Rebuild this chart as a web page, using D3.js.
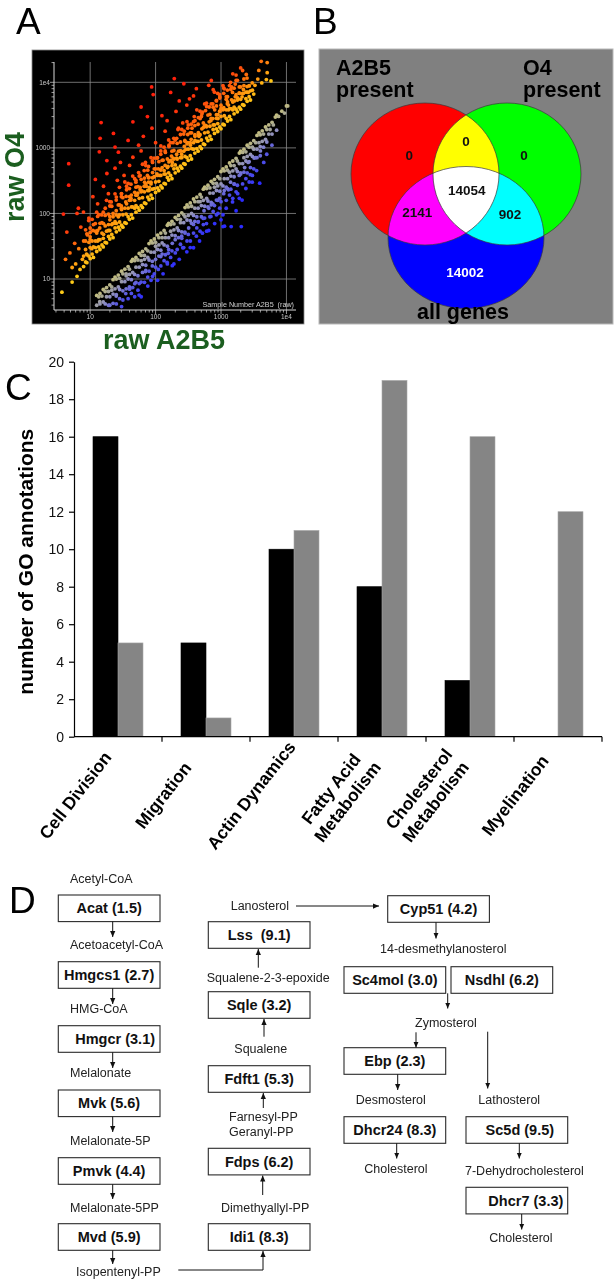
<!DOCTYPE html>
<html>
<head>
<meta charset="utf-8">
<script src="https://cdn.jsdelivr.net/npm/d3@7"></script>
<style>
  body { margin: 0; background: #fff; }
  svg { display: block; font-family: 'Liberation Sans', Arial, Helvetica, sans-serif; }
</style>
</head>
<body>
<svg id="fig" width="614" height="1280"></svg>
<script>
// ===================== DATA =====================
const panelLetters = ["A", "B", "C", "D"];

// ---- Panel A: raw A2B5 (x) vs raw O4 (y) ----
const axisGridValuesA = [10, 100, 1000, 10000];
const axisGridLabelsA = ["10", "100", "1000", "1e4"];
// Upper (O4-enriched) band, read in log10 units: [log10 A2B5, log10 O4 values...]
const upperBandLog10 = [
  [0.90,1.19,1.35,1.58],[0.93,1.26,1.45,1.75],[0.95,1.25,1.37,1.69],[0.98,1.35,1.56,1.93],[1.00,1.31,1.48,1.71],
  [1.03,1.38,1.58,1.91],[1.05,1.33,1.49,1.83],[1.08,1.48,1.58,1.73],[1.10,1.42,1.70,2.02],[1.13,1.49,1.60,1.98],
  [1.15,1.45,1.60,1.85],[1.18,1.52,1.70,1.86],[1.20,1.49,1.62,2.02],[1.23,1.56,1.81,1.97],[1.25,1.55,1.73,2.20],
  [1.28,1.65,1.83,1.99],[1.30,1.61,1.74,2.18],[1.33,1.68,1.83,2.11],[1.35,1.63,1.95,2.00],[1.38,1.78,1.85,2.30],
  [1.40,1.72,1.85,2.25],[1.43,1.79,1.95,2.13],[1.45,1.75,1.87,2.13],[1.48,1.82,2.06,2.30],[1.50,1.79,1.98,2.24],
  [1.53,1.86,2.08,2.48],[1.55,1.85,1.99,2.26],[1.58,1.95,2.08,2.46],[1.60,1.91,2.20,2.38],[1.63,1.98,2.10,2.28],
  [1.65,1.93,2.10,2.57],[1.68,2.08,2.20,2.53],[1.70,2.02,2.12,2.40],[1.73,2.09,2.31,2.41],[1.75,2.05,2.23,2.57],
  [1.78,2.12,2.33,2.52],[1.80,2.09,2.24,2.75],[1.83,2.16,2.33,2.54],[1.85,2.15,2.45,2.73],[1.88,2.25,2.35,2.66],
  [1.90,2.21,2.35,2.55],[1.93,2.28,2.45,2.85],[1.95,2.23,2.37,2.80],[1.98,2.38,2.56,2.68],[2.00,2.32,2.48,2.68],
  [2.03,2.39,2.58,2.85],[2.05,2.35,2.49,2.79],[2.08,2.42,2.58,3.03],[2.10,2.39,2.70,2.81],[2.13,2.46,2.60,3.01],
  [2.15,2.45,2.60,2.93],[2.18,2.55,2.70,2.83],[2.20,2.51,2.62,3.12],[2.23,2.58,2.81,3.08],[2.25,2.53,2.73,2.95],
  [2.28,2.68,2.83,2.96],[2.30,2.62,2.74,3.12],[2.33,2.69,2.83,3.07],[2.35,2.65,2.95,3.30],[2.38,2.72,2.85,3.09],
  [2.40,2.69,2.85,3.28],[2.43,2.76,2.95,3.21],[2.45,2.75,2.87,3.10],[2.48,2.85,3.06,3.40],[2.50,2.81,2.98,3.35],
  [2.53,2.88,3.08,3.23],[2.55,2.83,2.99,3.23],[2.58,2.98,3.08,3.40],[2.60,2.92,3.20,3.34],[2.63,2.99,3.10,3.58],
  [2.65,2.95,3.10,3.36],[2.68,3.02,3.20,3.56],[2.70,2.99,3.12,3.48],[2.73,3.06,3.31,3.38],[2.75,3.05,3.23,3.67],
  [2.78,3.15,3.33,3.63],[2.80,3.11,3.24,3.50],[2.83,3.18,3.33,3.51],[2.85,3.13,3.45,3.67],[2.88,3.28,3.35,3.62],
  [2.90,3.22,3.35,3.85],[2.93,3.29,3.45,3.64],[2.95,3.25,3.37,3.83],[2.98,3.32,3.56,3.76],[3.00,3.29,3.48,3.65],
  [3.03,3.36,3.58,3.95],[3.05,3.35,3.49,3.90],[3.08,3.45,3.58,3.78],[3.10,3.41,3.70,3.78],[3.13,3.48,3.60,3.95],
  [3.15,3.43,3.60,3.89],[3.18,3.58,3.70,4.13],[3.20,3.52,3.62,3.91],[3.23,3.59,3.81,4.11],[3.25,3.55,3.73,4.03],
  [3.28,3.62,3.83,3.93],[3.30,3.59,3.74,4.22],[3.33,3.66,3.83,4.18],[3.35,3.65,3.95,4.05],[3.38,3.75,3.85],
  [3.40,3.71,3.85],[3.43,3.78,3.95],[3.45,3.73,3.87],[3.48,3.88],[3.50,3.82]
];
// Extra O4-enriched points (raw): [A2B5, [O4 values...]]
const upperMid = [
  [10,[40,60]],[13,[55,90]],[16,[70]],[20,[80,130]],[25,[95,160]],[30,[120,200]],[36,[140,230]],[42,[170,280]],
  [50,[190,320]],[58,[230,380]],[67,[260,450]],[78,[300,520]],[90,[350,600]],[105,[400,700]],[120,[460,800]],
  [140,[540,900]],[160,[610,1050]],[185,[700,1200]],[210,[800,1400]],[240,[900,1600]],[275,[1050,1800]],
  [310,[1200,2000]],[350,[1350,2300]],[400,[1500,2600]],[450,[1700,2900]],[510,[1950,3300]],[580,[2200,3700]],
  [660,[2500,4200]],[750,[2800,4700]],[850,[3200,5300]],[960,[3600,6000]],[1100,[4100,6800]],[1250,[4700,7600]],
  [1450,[5400,8500]],[1650,[6000,9400]],[1900,[6900]],[2200,[7800]],[2500,[8600]]
];
// Sparse points far above the diagonal (raw): [A2B5, O4]
const upperSparse = [
  [3.7,6.3],[4.2,20],[5.3,9],[5.3,15],[6.3,11],[4.4,52],[3.9,98],[6.6,120],[7.9,105],[6.3,100],[4.7,270],[4.7,575],
  [6.7,29],[7.6,20],[9.1,47],[10,44],[10.6,29],[8.5,38],[5.8,35],[7.2,62],[9.5,78],[4.9,25],[6,17],[8.8,24],[7,14],
  [14.7,2430],[14.2,1400],[13.8,870],[22.7,1660],[24,1030],[18,407],[24,490],[12,330],[16,260],[11,180],[13,140],
  [15,95],[19,200],[21,150],[26,320],[28,250],[17,120],[12,70],[14,60],[20,90],[25,110],[30,180],[29,600],[18,640],
  [27,860],[11,55],[16,48],[22,70],[13,38],[19,55],[24,75],[28,95],[30,130],
  [33,380],[36,260],[40,540],[45,720],[50,300],[55,420],[60,900],[65,1500],[70,600],[75,380],[80,250],[87,8500],
  [92,6500],[40,180],[48,210],[58,250],[68,300],[78,350],[90,420],[35,150],[42,160],[52,190],[62,220],[72,260],
  [85,300],[95,700],[100,1200],[88,2000],[55,1100],[45,2500],[75,3000],[60,4200],[38,1300],
  [110,480],[120,900],[130,650],[140,1800],[150,2600],[160,1100],[175,750],[190,1400],[193,11400],[205,3600],
  [220,1900],[240,900],[260,2400],[280,1300],[300,4500],[330,5600],[360,2000],[390,3000],[420,8000],[450,1600],
  [480,2800],[115,380],[135,450],[155,520],[180,600],[210,700],[250,800],[290,950],[340,1100],[400,1300],[460,1500],
  [125,3100],[230,5200],[170,7000],[270,9500],[310,1600],[380,6200],
  [520,3500],[560,2200],[600,4800],[650,9000],[710,10700],[760,7700],[800,3800],[850,5200],[900,2800],[950,6500],
  [1000,4000],[1100,8200],[1200,5500],[1300,3800],[1400,10000],[1500,7000],[1700,10700],[1800,5800],[2000,8500],
  [2200,6800],[2430,13200],[2500,11600],[2700,8800],[3000,9800],[3650,11200],[3780,15200],[4110,20900],[4930,11000],
  [5080,20000],[5080,14000],[5800,10500],[3300,9000],[4200,9800],[600,2100],[700,2600],[900,3200],[1100,3900],
  [1300,4500],[1600,5200],[2100,6000],[2600,7000]
];
// Lower (A2B5-enriched) band, log10 units: [log10 A2B5, log10 O4 values...]
const lowerBandLog10 = [
  [1.10,0.75,0.60],[1.13,0.73],[1.15,0.78,0.62],[1.18,0.74],[1.20,0.84,0.65],[1.23,0.81,0.62],[1.25,0.87,0.73],
  [1.28,0.81,0.60],[1.30,0.91,0.73,0.60],[1.33,0.88,0.83],[1.35,0.99,0.77,0.63],[1.38,1.03,0.85],[1.40,1.00,0.76,0.62],
  [1.43,1.06,0.88],[1.45,1.01,0.84,0.70],[1.48,1.12,0.96,0.58],[1.50,1.08,0.82,0.68],[1.53,1.15,0.96],
  [1.55,1.08,1.05,0.85],[1.58,1.19,1.00,0.70],[1.60,1.15,1.07,0.88],[1.63,1.27,0.99,0.78],[1.65,1.30,1.10,0.87],
  [1.68,1.28,1.07,0.73],[1.70,1.33,1.18,0.95],[1.73,1.29,1.05,0.83],[1.75,1.39,1.18,0.93],[1.78,1.36,1.28,0.73],
  [1.80,1.42,1.22,1.10],[1.83,1.36,1.30,0.95],[1.85,1.46,1.21,1.13],[1.88,1.43,1.33,1.03],[1.90,1.54,1.29,1.12],
  [1.93,1.58,1.41,0.98],[1.95,1.55,1.27,1.20],[1.98,1.61,1.41,1.08],[2.00,1.56,1.50,1.18],[2.03,1.67,1.45,0.98],
  [2.05,1.63,1.52,1.35],[2.08,1.70,1.44,1.20],[2.10,1.63,1.55,1.38],[2.13,1.74,1.52,1.28],[2.15,1.70,1.63,1.37],
  [2.18,1.82,1.50,1.23],[2.20,1.85,1.63,1.45],[2.23,1.83,1.73,1.33],[2.25,1.88,1.67,1.43],[2.28,1.84,1.75,1.23],
  [2.30,1.94,1.66,1.60],[2.33,1.91,1.78,1.45],[2.35,1.97,1.74,1.63],[2.38,1.91,1.86,1.53],[2.40,2.01,1.72,1.62],
  [2.43,1.98,1.86,1.48],[2.45,2.09,1.95,1.70],[2.48,2.13,1.90,1.58],[2.50,2.10,1.97,1.68],[2.53,2.16,1.89,1.48],
  [2.55,2.11,2.00,1.85],[2.58,2.22,1.97,1.70],[2.60,2.18,2.08,1.88],[2.63,2.25,1.95,1.78],[2.65,2.18,2.08,1.87],
  [2.68,2.29,2.18,1.73],[2.70,2.25,2.12,1.95],[2.73,2.37,2.20,1.83],[2.75,2.40,2.11,1.93],[2.78,2.38,2.23,1.73],
  [2.80,2.43,2.19,2.10],[2.83,2.39,2.31,1.95],[2.85,2.49,2.17,2.13],[2.88,2.46,2.31,2.03],[2.90,2.52,2.40,2.12],
  [2.93,2.46,2.35,1.98],[2.95,2.56,2.42,2.20],[2.98,2.53,2.34,2.08],[3.00,2.64,2.45,2.18],[3.03,2.68,2.42,1.98],
  [3.05,2.65,2.53,2.35],[3.08,2.71,2.40,2.20],[3.10,2.66,2.53,2.38],[3.13,2.77,2.63,2.28],[3.15,2.73,2.57,2.37],
  [3.18,2.80,2.65,2.23],[3.20,2.73,2.56,2.45],[3.23,2.84,2.68,2.33],[3.25,2.80,2.64,2.43],[3.28,2.92,2.76,2.23],
  [3.30,2.95,2.62,2.60],[3.33,2.93,2.76,2.45],[3.35,2.98,2.85,2.63],[3.38,2.94,2.80,2.53],[3.40,3.04,2.87,2.62],
  [3.43,3.01,2.79,2.48],[3.45,3.07,2.90,2.70],[3.48,3.01,2.87,2.58],[3.50,3.11,2.98,2.68],[3.53,3.08,2.85],
  [3.55,3.19,2.98,2.85],[3.58,3.23,3.08],[3.60,3.20,3.02,2.88],[3.63,3.26,3.10],[3.65,3.21,3.01],[3.68,3.32,3.13],
  [3.70,3.28,3.09],[3.73,3.35,3.21],[3.75,3.28],[3.78,3.39,3.21],[3.80,3.35],[3.83,3.47],[3.85,3.50,3.27],
  [3.88,3.48],[3.93,3.56],[3.97,3.53],[4.00,3.64],[4.02,3.64]
];
// Sparse points far below the diagonal (raw): [A2B5, O4]
const lowerSparse = [
  [14,4.5],[56,5.7],[76,7.8],[40,7],[90,11],[110,14],[130,12],[150,18],[156,24.7],[180,16],[200,25],[230,20],
  [260,30],[300,26],[340,38],[380,30],[420,45],[470,38],[535,84],[520,50],[600,70],[650,55],[700,90],[800,70],
  [900,100],[1000,80],[1070,63],[1130,64],[1200,120],[1430,63],[1500,150],[1700,110],[1800,200],[2040,63],
  [2100,160],[2400,240],[2800,390],[3000,300],[3900,290],[3500,450],[4500,600],[5000,800],[6000,1100],[250,45],
  [320,60],[450,75],[550,110],[750,140],[950,170],[1300,230],[1600,280],[2600,600],[3200,700],[4000,900],
  [180,35],[120,22],[70,13],[100,20],[280,52],[380,68],[650,120],[850,160],[1100,200],[1400,300],[1900,380],
  [2300,500],[60,9],[35,6],[25,5.5],[48,8.5]
];

// ---- Panel B: Venn diagram ----
const vennSetNames = ["A2B5|present", "O4|present", "all genes"];
const vennSetColors = ["#ff0000", "#00ff00", "#0000ff"];
const vennRegionNames = ["A2B5 only", "A2B5 & O4", "O4 only", "A2B5 & all", "all three", "O4 & all", "all only"];
const vennRegionCounts = [0, 0, 0, 2141, 14054, 902, 14002];

// ---- Panel C: GO annotation bars ----
const goCategories = ["Cell Division", "Migration", "Actin Dynamics", "Fatty Acid\nMetabolism", "Cholesterol\nMetabolism", "Myelination"];
const goSeriesBlack = [16, 5, 10, 8, 3, 0];
const goSeriesGrey = [5, 1, 11, 19, 16, 12];
const goTicks = [0, 2, 4, 6, 8, 10, 12, 14, 16, 18, 20];

// ---- Panel D: cholesterol biosynthesis pathway ----
const enzymes = ["Acat","Hmgcs1","Hmgcr","Mvk","Pmvk","Mvd","Idi1","Fdps","Fdft1","Sqle","Lss","Cyp51","Sc4mol","Nsdhl","Ebp","Dhcr24","Sc5d","Dhcr7"];
const enzymeFold = [1.5, 2.7, 3.1, 5.6, 4.4, 5.9, 8.3, 6.2, 5.3, 3.2, 9.1, 4.2, 3.0, 6.2, 2.3, 8.3, 9.5, 3.3];
const metabolites = ["Acetyl-CoA","Acetoacetyl-CoA","HMG-CoA","Melalonate","Melalonate-5P","Melalonate-5PP","Isopentenyl-PP",
  "Dimethyallyl-PP","Farnesyl-PP","Geranyl-PP","Squalene","Squalene-2-3-epoxide","Lanosterol","14-desmethylanosterol",
  "Zymosterol","Desmosterol","Lathosterol","Cholesterol","7-Dehydrocholesterol","Cholesterol"];

// ===================== DRAWING =====================
const svg = d3.select("#fig");
const letterLayout = [[16, 34], [313, 34], [5, 400], [9, 913]];
svg.selectAll("text.panel").data(panelLetters).join("text")
  .attr("class", "panel")
  .attr("x", (d, i) => letterLayout[i][0]).attr("y", (d, i) => letterLayout[i][1])
  .attr("font-size", 37).attr("fill", "#000").text(d => d);

// ---------- Panel A ----------
const gA = svg.append("g");
gA.append("rect").attr("x", 32).attr("y", 50).attr("width", 272).attr("height", 274)
  .attr("fill", "#000").attr("stroke", "#888").attr("stroke-width", 0.8);
const xA = d3.scaleLog().domain([2.8, 14000]).range([54, 296]);
const yA = d3.scaleLog().domain([3.37, 20400]).range([310, 62]);

gA.selectAll("line.vg").data(axisGridValuesA).join("line").attr("class", "vg")
  .attr("x1", d => xA(d)).attr("x2", d => xA(d))
  .attr("y1", yA.range()[0]).attr("y2", yA.range()[1])
  .attr("stroke", "#8c8c8c").attr("stroke-width", 0.8);
gA.selectAll("line.hg").data(axisGridValuesA).join("line").attr("class", "hg")
  .attr("y1", d => yA(d)).attr("y2", d => yA(d))
  .attr("x1", xA.range()[0]).attr("x2", xA.range()[1])
  .attr("stroke", "#8c8c8c").attr("stroke-width", 0.8);
gA.append("line").attr("x1", xA.range()[0]).attr("x2", xA.range()[1])
  .attr("y1", yA.range()[0]).attr("y2", yA.range()[0]).attr("stroke", "#d8d8d8").attr("stroke-width", 1);
gA.append("line").attr("x1", xA.range()[0]).attr("x2", xA.range()[0])
  .attr("y1", yA.range()[0]).attr("y2", yA.range()[1]).attr("stroke", "#d8d8d8").attr("stroke-width", 1);
gA.selectAll("line.xt").data(xA.ticks()).join("line").attr("class", "xt")
  .attr("x1", d => xA(d)).attr("x2", d => xA(d))
  .attr("y1", yA.range()[0]).attr("y2", d => yA.range()[0] + (axisGridValuesA.includes(d) ? 4 : 2.5))
  .attr("stroke", "#d8d8d8").attr("stroke-width", 0.7);
gA.selectAll("line.yt").data(yA.ticks()).join("line").attr("class", "yt")
  .attr("y1", d => yA(d)).attr("y2", d => yA(d))
  .attr("x1", xA.range()[0]).attr("x2", d => xA.range()[0] - (axisGridValuesA.includes(d) ? 4 : 2.5))
  .attr("stroke", "#d8d8d8").attr("stroke-width", 0.7);
gA.selectAll("text.xl").data(axisGridValuesA).join("text").attr("class", "xl")
  .attr("x", d => xA(d)).attr("y", yA.range()[0] + 9).attr("text-anchor", "middle")
  .attr("font-size", 6.5).attr("fill", "#c8c8c8").text((d, i) => axisGridLabelsA[i]);
gA.selectAll("text.yl").data(axisGridValuesA).join("text").attr("class", "yl")
  .attr("x", xA.range()[0] - 4).attr("y", d => yA(d) + 2.2).attr("text-anchor", "end")
  .attr("font-size", 6.5).attr("fill", "#c8c8c8").text((d, i) => axisGridLabelsA[i]);
gA.append("text").attr("x", xA.range()[1] - 2).attr("y", yA.range()[0] - 3.5).attr("text-anchor", "end")
  .attr("font-size", 7.2).attr("fill", "#d0d0d0").style("white-space", "pre").text("Sample Number A2B5  (raw)");

const fromLogRows = rows => rows.flatMap(r => r.slice(1).map(ly => [10 ** r[0], 10 ** ly]));
const fromRawRows = rows => rows.flatMap(([x, ys]) => ys.map(y => [x, y]));
const upperPts = [...upperSparse, ...fromRawRows(upperMid), ...fromLogRows(upperBandLog10)];
const lowerPts = [...lowerSparse, ...fromLogRows(lowerBandLog10)];
const upperColor = d3.scaleLinear().domain([0.2, 0.42, 0.65, 0.95, 1.5])
  .range(["#ffd21a", "#ffa812", "#ff7a0c", "#ff4a0c", "#ff200c"]).clamp(true);
const lowerColor = d3.scaleLinear().domain([-0.3, -0.45, -0.6, -0.8, -1.1])
  .range(["#d0c878", "#a6a692", "#8c8cc8", "#5656e2", "#2c2cff"]).clamp(true);
const logRatio = d => Math.log10(d[1] / d[0]);
gA.append("g").selectAll("circle").data(lowerPts).join("circle")
  .attr("cx", d => xA(d[0])).attr("cy", d => yA(d[1])).attr("r", 1.9)
  .attr("fill", d => lowerColor(logRatio(d)));
gA.append("g").selectAll("circle").data(upperPts).join("circle")
  .attr("cx", d => xA(d[0])).attr("cy", d => yA(d[1])).attr("r", 1.9)
  .attr("fill", d => upperColor(logRatio(d)));

const axisTitleGreen = "#1b5e1f";
svg.append("text").attr("transform", "translate(24,177) rotate(-90)").attr("text-anchor", "middle")
  .attr("font-size", 27).attr("font-weight", "bold").attr("fill", axisTitleGreen).text("raw O4");
svg.append("text").attr("x", 164).attr("y", 349).attr("text-anchor", "middle")
  .attr("font-size", 27).attr("font-weight", "bold").attr("fill", axisTitleGreen).text("raw A2B5");

// ---------- Panel B ----------
const gB = svg.append("g");
gB.append("rect").attr("x", 319).attr("y", 49).attr("width", 294).attr("height", 275)
  .attr("fill", "#808080").attr("stroke", "#b8b8b8").attr("stroke-width", 1);
const vennShapes = [[425, 174, 74, 71], [507, 174, 74, 71], [466, 237.5, 78, 71]];
const vennG = gB.append("g").style("isolation", "isolate");
vennG.selectAll("ellipse").data(vennSetColors).join("ellipse")
  .attr("cx", (d, i) => vennShapes[i][0]).attr("cy", (d, i) => vennShapes[i][1])
  .attr("rx", (d, i) => vennShapes[i][2]).attr("ry", (d, i) => vennShapes[i][3])
  .attr("fill", d => d).style("mix-blend-mode", "screen");
gB.append("g").selectAll("ellipse").data(vennSetColors).join("ellipse")
  .attr("cx", (d, i) => vennShapes[i][0]).attr("cy", (d, i) => vennShapes[i][1])
  .attr("rx", (d, i) => vennShapes[i][2]).attr("ry", (d, i) => vennShapes[i][3])
  .attr("fill", "none").attr("stroke", "#3a3a3a").attr("stroke-width", 0.7);
const vennRegionPos = [[409.3, 155], [466, 141], [524, 155], [417.3, 212.3], [466.7, 190], [510, 214.3], [465, 272.7]];
gB.selectAll("text.cnt").data(vennRegionCounts).join("text").attr("class", "cnt")
  .attr("x", (d, i) => vennRegionPos[i][0]).attr("y", (d, i) => vennRegionPos[i][1] + 4.7)
  .attr("text-anchor", "middle").attr("font-size", 13.5).attr("font-weight", "bold")
  .attr("fill", (d, i) => i === 6 ? "#fff" : "#111").text(d => d);
const vennNamePos = [[336, 75, "start"], [523, 75, "start"], [463, 319, "middle"]];
vennSetNames.forEach((name, i) => {
  name.split("|").forEach((ln, j) => {
    gB.append("text").attr("x", vennNamePos[i][0]).attr("y", vennNamePos[i][1] + j * 21.5)
      .attr("text-anchor", vennNamePos[i][2]).attr("font-size", 21.5).attr("font-weight", "bold")
      .attr("fill", "#000").text(ln);
  });
});

// ---------- Panel C ----------
const gC = svg.append("g");
const xC = d3.scaleBand().domain(goCategories).range([74, 602]);
const xSub = d3.scaleBand().domain(["black", "grey"]).range([19, 69]);
const yC = d3.scaleLinear().domain([0, 20]).range([736.7, 361.7]);
const series = [{key: "black", values: goSeriesBlack, fill: "#000000", stroke: "#000"},
                {key: "grey", values: goSeriesGrey, fill: "#858585", stroke: "#a8a8a8"}];
series.forEach(s => {
  gC.append("g").selectAll("rect").data(goCategories.map((c, i) => ({c, v: s.values[i]})).filter(d => d.v > 0)).join("rect")
    .attr("x", d => xC(d.c) + xSub(s.key)).attr("width", xSub.bandwidth())
    .attr("y", d => yC(d.v)).attr("height", d => yC(0) - yC(d.v))
    .attr("fill", s.fill).attr("stroke", s.stroke).attr("stroke-width", 0.6);
});
const yAxisC = gC.append("g").attr("transform", `translate(${xC.range()[0]},0)`)
  .call(d3.axisLeft(yC).tickValues(goTicks).tickSize(5).tickSizeOuter(0).tickPadding(5));
yAxisC.selectAll("text").attr("font-size", 14).attr("font-family", "'Liberation Sans', Arial, sans-serif").attr("fill", "#111");
yAxisC.selectAll("line,path").attr("stroke", "#000").attr("stroke-width", 1.2);
gC.append("line").attr("x1", xC.range()[0]).attr("x2", xC.range()[1]).attr("y1", yC(0)).attr("y2", yC(0))
  .attr("stroke", "#000").attr("stroke-width", 1.2);
gC.selectAll("line.bt").data(goCategories).join("line").attr("class", "bt")
  .attr("x1", d => xC(d) + xC.bandwidth()).attr("x2", d => xC(d) + xC.bandwidth())
  .attr("y1", yC(0)).attr("y2", yC(0) + 5).attr("stroke", "#000").attr("stroke-width", 1.2);
const catLineH = 21;
goCategories.forEach(cat => {
  const cx = xC(cat) + xC.bandwidth() / 2;
  const lines = cat.split("\n");
  const g = gC.append("g").attr("transform", `translate(${cx - 38},${799}) rotate(-52)`);
  lines.forEach((ln, j) => {
    g.append("text").attr("x", 0).attr("y", (j - (lines.length - 1) / 2) * catLineH)
      .attr("text-anchor", "middle").attr("font-size", 17.5).attr("font-weight", "bold").attr("fill", "#000").text(ln);
  });
});
svg.append("text").attr("transform", "translate(33,561.7) rotate(-90)").attr("text-anchor", "middle")
  .attr("font-size", 21).attr("font-weight", "bold").attr("fill", "#000").text("number of GO annotations");

// ---------- Panel D ----------
const gD = svg.append("g");
const boxW = 101.7, boxH = 26.6;
const boxLayout = {
  Acat: [58.3, 895], Hmgcs1: [58.3, 961.7], Hmgcr: [58.3, 1025.7, 6], Mvk: [58.3, 1090], Pmvk: [58.3, 1157.7], Mvd: [58.3, 1223.7],
  Idi1: [208.3, 1223.7], Fdps: [208.3, 1148.3], Fdft1: [208.3, 1065.7], Sqle: [208.3, 991.7], Lss: [208.3, 921.7],
  Cyp51: [387.7, 895.7], Sc4mol: [344, 966.7], Nsdhl: [451, 966.7], Ebp: [344, 1047.7], Dhcr24: [344, 1116.7],
  Sc5d: [466, 1116.7, 3], Dhcr7: [466, 1187.3, 9]
};
const boxG = gD.selectAll("g.box").data(enzymes).join("g").attr("class", "box")
  .attr("transform", d => `translate(${boxLayout[d][0]},${boxLayout[d][1]})`);
boxG.append("rect").attr("width", boxW).attr("height", boxH)
  .attr("fill", "#fff").attr("stroke", "#2a2a2a").attr("stroke-width", 1.1);
boxG.append("text").attr("x", d => boxW / 2 + (boxLayout[d][2] || 0)).attr("y", 18.4).attr("text-anchor", "middle")
  .attr("font-size", 14.5).attr("font-weight", "bold").attr("fill", "#111").style("white-space", "pre")
  .text((d, i) => `${d}${d === "Lss" ? "  " : " "}(${enzymeFold[i].toFixed(1)})`);
const metaboliteLayout = [[70, 883.3], [70, 949.3], [70, 1013.3], [70, 1077.3], [70, 1145], [70, 1211.7], [76, 1276],
  [221, 1211.7], [229, 1121], [229, 1136], [234.3, 1053.3], [206.7, 981.7], [230.7, 910], [380, 953.3],
  [415, 1026.7], [355.7, 1104], [478.3, 1104], [364.3, 1172.7], [465, 1175], [489.3, 1241.7]];
gD.selectAll("text.met").data(metabolites).join("text").attr("class", "met")
  .attr("x", (d, i) => metaboliteLayout[i][0]).attr("y", (d, i) => metaboliteLayout[i][1])
  .attr("font-size", 12.5).attr("fill", "#222").text(d => d);
const defs = svg.append("defs");
defs.append("marker").attr("id", "ah").attr("viewBox", "0 0 8 8").attr("refX", 8).attr("refY", 4)
  .attr("markerWidth", 6).attr("markerHeight", 6).attr("markerUnits", "userSpaceOnUse").attr("orient", "auto")
  .append("path").attr("d", "M0,0.5 L8,4 L0,7.5 Z").attr("fill", "#111");
const arrowLayout = [
  [[112.7, 921.6], [112.7, 937]], [[112.7, 988.3], [112.7, 1004]], [[112.7, 1052.3], [112.7, 1068]],
  [[112.7, 1116.6], [112.7, 1132]], [[112.7, 1184.3], [112.7, 1199]], [[112.7, 1250.3], [112.7, 1264]],
  [[178.3, 1270], [263, 1270], [263, 1251]],
  [[262.7, 1195], [262.7, 1175.5]], [[263.3, 1108], [263.3, 1093]], [[264, 1036.7], [264, 1019]], [[258.3, 967.7], [258.3, 949]],
  [[296, 906], [379, 906]],
  [[436, 922.3], [436, 938.5]], [[447.7, 993.3], [447.7, 1008.5]], [[416, 1032.3], [416, 1047.5]],
  [[487.7, 1031.7], [487.7, 1088.5]], [[397.7, 1074.3], [397.7, 1090]], [[396.7, 1143.3], [396.7, 1158.5]],
  [[519.3, 1143.3], [519.3, 1158.5]], [[521.7, 1214], [521.7, 1229.5]]
];
gD.selectAll("path.arr").data(arrowLayout).join("path").attr("class", "arr")
  .attr("d", d => d3.line()(d)).attr("fill", "none").attr("stroke", "#111").attr("stroke-width", 1)
  .attr("marker-end", "url(#ah)");
</script>
</body>
</html>
